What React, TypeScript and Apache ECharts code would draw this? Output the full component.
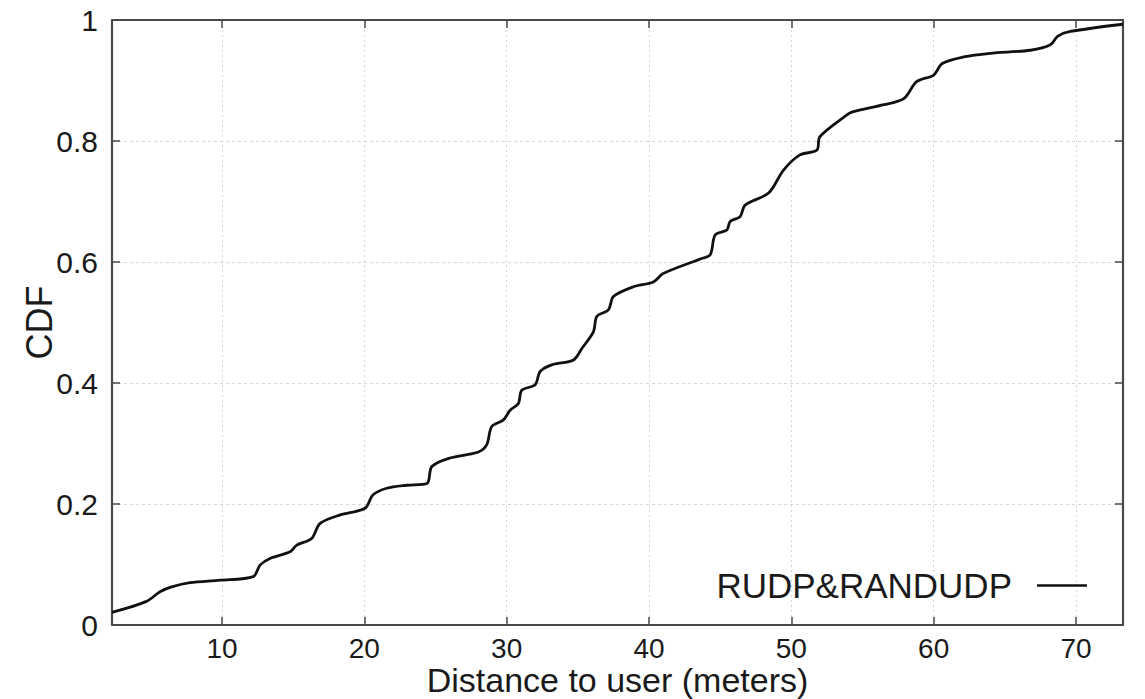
import React, { useEffect, useRef } from "react";
import * as echarts from "echarts";

const distances: number[] = [
  2.27, 4.7, 5.64, 6.46, 7.75, 9.86, 12.2, 12.67, 13.37, 14.78, 15.25, 16.3,
  16.89, 18.3, 20.05, 20.6, 21.57, 23.0, 24.4, 24.74, 26.0, 28.02, 28.6, 28.95,
  29.77, 30.24, 30.82, 31.06, 32.0, 32.35, 33.17, 34.69, 35.28, 36.1, 36.33,
  37.15, 37.5, 38.9, 40.3, 41.0, 43.6, 44.3, 44.65, 45.47, 45.7, 46.4, 46.75,
  48.4, 49.45, 50.6, 51.8, 52.0, 53.9, 54.3, 56.5, 57.9, 58.8, 60.0, 60.6,
  62.1, 63.97, 66.8, 68.2, 68.7, 69.6, 73.3,
];
const cdfValues: number[] = [
  0.021, 0.039, 0.055, 0.063, 0.07, 0.074, 0.08, 0.099, 0.11, 0.121, 0.132,
  0.143, 0.168, 0.182, 0.193, 0.215, 0.226, 0.231, 0.234, 0.262, 0.276, 0.286,
  0.298, 0.328, 0.339, 0.355, 0.366, 0.388, 0.397, 0.419, 0.43, 0.438, 0.457,
  0.485, 0.51, 0.521, 0.543, 0.559, 0.567, 0.581, 0.605, 0.612, 0.645, 0.653,
  0.667, 0.675, 0.694, 0.714, 0.752, 0.777, 0.785, 0.807, 0.843, 0.848, 0.86,
  0.87, 0.898, 0.909, 0.928, 0.939, 0.945, 0.95, 0.959, 0.973, 0.981, 0.993,
];
const seriesName = "RUDP&RANDUDP";
const xAxisTitle = "Distance to user (meters)";
const yAxisTitle = "CDF";
const xMin = 2.27;
const xMax = 73.3;

export default function App() {
  const ref = useRef<HTMLDivElement>(null);
  useEffect(() => {
    if (!ref.current) return;
    const chart = echarts.init(ref.current, null, { renderer: "svg" });
    const font = "'Liberation Sans', Arial, Helvetica, sans-serif";
    const axisColor = "#4a4a4a";
    const data = distances.map((d, i) => [d, cdfValues[i]]);
    const boxLine = { show: true, onZero: false, lineStyle: { color: axisColor, width: 2.2 } };
    const tick = {
      show: true,
      inside: true,
      length: 8,
      lineStyle: { color: axisColor, width: 1.5 },
    };
    chart.setOption({
      animation: false,
      backgroundColor: "#fff",
      textStyle: { fontFamily: font },
      grid: {
        left: 112,
        right: 22,
        top: 20,
        bottom: 74,
        containLabel: false,
        outerBoundsMode: "none",
      },
      legend: {
        data: [seriesName],
        right: 58,
        top: 568,
        padding: 0,
        align: "right",
        icon: "rect",
        itemWidth: 50,
        itemHeight: 2.6,
        textStyle: {
          fontFamily: font,
          fontSize: 35,
          color: "#1a1a1a",
          padding: [0, 20, 0, 0],
        },
      },
      xAxis: [
        {
          type: "value",
          min: xMin,
          max: xMax,
          splitNumber: 7,
          name: xAxisTitle,
          nameLocation: "middle",
          nameGap: 38,
          nameMoveOverlap: false,
          nameTextStyle: {
            fontFamily: font,
            fontSize: 34,
            lineHeight: 34,
            color: "#1a1a1a",
          },
          axisLine: boxLine,
          axisTick: tick,
          axisLabel: {
            showMinLabel: false,
            showMaxLabel: false,
            margin: 9,
            fontFamily: font,
            fontSize: 28,
            lineHeight: 28,
            color: "#1a1a1a",
          },
          splitLine: {
            show: true,
            lineStyle: { color: "#d6d6d6", type: [2, 3], width: 1 },
          },
        },
        {
          type: "value",
          position: "top",
          min: xMin,
          max: xMax,
          splitNumber: 7,
          axisLine: boxLine,
          axisTick: tick,
          axisLabel: { show: false },
          splitLine: { show: false },
        },
      ],
      yAxis: [
        {
          type: "value",
          min: 0,
          max: 1,
          interval: 0.2,
          name: yAxisTitle,
          nameLocation: "middle",
          nameGap: 55,
          nameMoveOverlap: false,
          nameTextStyle: { fontFamily: font, fontSize: 36, color: "#1a1a1a" },
          axisLine: boxLine,
          axisTick: tick,
          axisLabel: {
            margin: 14,
            fontFamily: font,
            fontSize: 30,
            color: "#1a1a1a",
          },
          splitLine: {
            show: true,
            lineStyle: { color: "#d6d6d6", type: [3, 3], width: 1 },
          },
        },
        {
          type: "value",
          position: "right",
          min: 0,
          max: 1,
          interval: 0.2,
          axisLine: boxLine,
          axisTick: tick,
          axisLabel: { show: false },
          splitLine: { show: false },
        },
      ],
      series: [
        {
          name: seriesName,
          type: "line",
          xAxisIndex: 0,
          yAxisIndex: 0,
          data,
          smooth: 0.3,
          showSymbol: false,
          symbol: "none",
          lineStyle: { color: "#111", width: 2.8 },
          itemStyle: { color: "#111" },
        },
      ],
    });
    return () => chart.dispose();
  }, []);
  return (
    <div
      ref={ref}
      style={{ position: "absolute", left: 0, top: 0, width: 1145, height: 699 }}
    />
  );
}
